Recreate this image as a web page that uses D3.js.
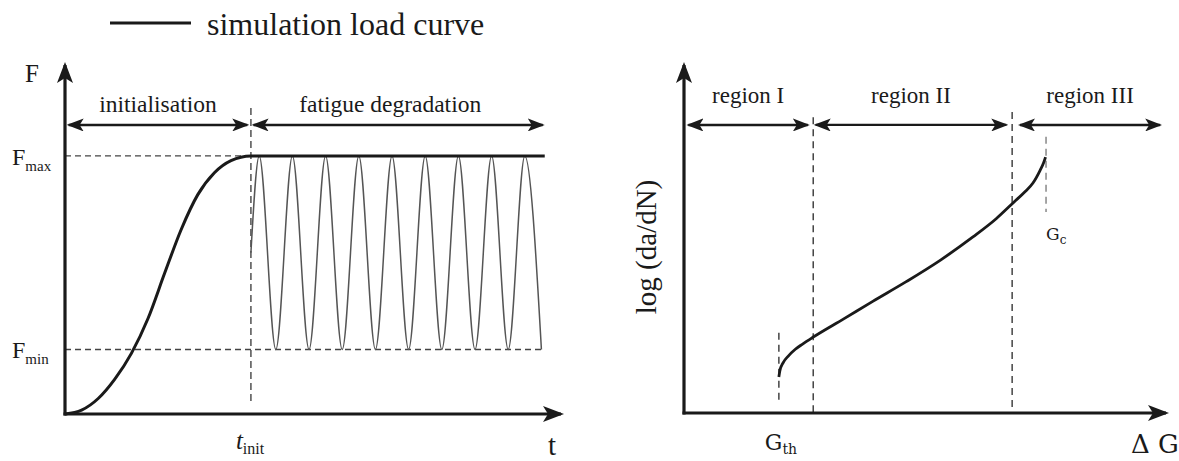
<!DOCTYPE html>
<html>
<head>
<meta charset="utf-8">
<script src="https://cdn.jsdelivr.net/npm/d3@7"></script>
<style>
  body { margin: 0; background: #fff; }
  text { font-family: "Liberation Serif", "Times New Roman", serif; fill: #1a1a1a; }
</style>
</head>
<body>
<script>
const width = 1179;
const height = 461;

// left panel: simulated load history F(t)
const rampT = [0, 0.5, 1.0, 1.5, 2.0, 2.5, 3.0, 3.5, 4.0, 4.5, 5.0, 5.6, 14.45];
const rampF = [0, 0.015, 0.06, 0.135, 0.235, 0.37, 0.545, 0.715, 0.85, 0.935, 0.982, 1.0, 1.0];
const cycleT = [5.6, 5.85, 6.35, 6.85, 7.35, 7.85, 8.35, 8.85, 9.35, 9.85, 10.35,
                10.85, 11.35, 11.85, 12.35, 12.85, 13.35, 13.85, 14.35];
const cycleF = [0.625, 1, 0.25, 1, 0.25, 1, 0.25, 1, 0.25, 1, 0.25,
                1, 0.25, 1, 0.25, 1, 0.25, 1, 0.25];
const fMax = 1, fMin = 0.25, tInit = 5.6, tEnd = 14.45;
const phases = ["initialisation", "fatigue degradation"];
const phaseSpan = [[0.05, 5.55], [5.62, 14.45]];

// right panel: crack growth rate vs energy release rate
const dG = [1.96, 1.98, 2.05, 2.15, 2.3, 2.45, 2.67, 3.3, 3.9, 4.6, 5.3, 5.97, 6.45, 6.82, 7.05, 7.21, 7.36, 7.43, 7.47];
const rate = [1.03, 1.2, 1.44, 1.62, 1.82, 1.97, 2.17, 2.69, 3.19, 3.76, 4.37, 5.03, 5.55, 6.03, 6.33, 6.57, 6.94, 7.15, 7.31];
const regions = ["region I", "region II", "region III"];
const regionSpan = [[0.05, 2.6], [2.68, 6.7], [6.9, 9.88]];
const gTh = 1.96, gC = 7.48, gB1 = 2.67, gB2 = 6.78;

const ink = "#1a1a1a";
const dashGrey = "#444";

let svg = d3.select("body").append("svg")
    .attr("width", width)
    .attr("height", height);

svg.append("rect").attr("width", width).attr("height", height).attr("fill", "white");

// arrow heads
let defs = svg.append("defs");
defs.append("marker")
    .attr("id", "axisHead")
    .attr("viewBox", "0 -8 21 16")
    .attr("refX", 18).attr("refY", 0)
    .attr("markerWidth", 21).attr("markerHeight", 16)
    .attr("markerUnits", "userSpaceOnUse")
    .attr("orient", "auto")
    .append("path").attr("d", "M0,-8L21,0L0,8L5,0Z").attr("fill", ink);
defs.append("marker")
    .attr("id", "spanHead")
    .attr("viewBox", "0 -6.5 17 13")
    .attr("refX", 15).attr("refY", 0)
    .attr("markerWidth", 17).attr("markerHeight", 13)
    .attr("markerUnits", "userSpaceOnUse")
    .attr("orient", "auto-start-reverse")
    .append("path").attr("d", "M0,-6.5L17,0L0,6.5L4,0Z").attr("fill", ink);

// ---------- left panel ----------
let tScale = d3.scaleLinear().domain([0, 15]).range([65, 563]);
let fScale = d3.scaleLinear().domain([0, 1.36]).range([414, 63]);
let left = svg.append("g");

// dashed guides
left.append("line")
    .attr("x1", tScale(0)).attr("x2", tScale(tInit))
    .attr("y1", fScale(fMax)).attr("y2", fScale(fMax))
    .attr("stroke", dashGrey).attr("stroke-width", 1.4).attr("stroke-dasharray", "6,4");
left.append("line")
    .attr("x1", tScale(0)).attr("x2", tScale(tEnd))
    .attr("y1", fScale(fMin)).attr("y2", fScale(fMin))
    .attr("stroke", dashGrey).attr("stroke-width", 1.4).attr("stroke-dasharray", "6,4");
left.append("line")
    .attr("x1", tScale(tInit)).attr("x2", tScale(tInit))
    .attr("y1", fScale(1.186)).attr("y2", fScale(0.035))
    .attr("stroke", dashGrey).attr("stroke-width", 1.4).attr("stroke-dasharray", "7,4");

// cyclic load
let cycLine = d3.line()
    .x((d, i) => tScale(cycleT[i]))
    .y((d) => fScale(d))
    .curve(d3.curveMonotoneX);
left.append("path")
    .attr("d", cycLine(cycleF))
    .attr("fill", "none").attr("stroke", "#555").attr("stroke-width", 1.5);

// simulation load curve (ramp + plateau)
let rampLine = d3.line()
    .x((d, i) => tScale(rampT[i]))
    .y((d) => fScale(d))
    .curve(d3.curveMonotoneX);
left.append("path")
    .attr("d", rampLine(rampF))
    .attr("fill", "none").attr("stroke", ink).attr("stroke-width", 3);

// axes
left.append("line")
    .attr("x1", tScale(0)).attr("x2", tScale(0))
    .attr("y1", fScale(0) + 1.5).attr("y2", fScale(1.36) + 2)
    .attr("stroke", ink).attr("stroke-width", 3.2).attr("marker-end", "url(#axisHead)");
left.append("line")
    .attr("x1", tScale(0) - 1.5).attr("x2", tScale(15) - 2)
    .attr("y1", fScale(0)).attr("y2", fScale(0))
    .attr("stroke", ink).attr("stroke-width", 3.2).attr("marker-end", "url(#axisHead)");

// phase arrows
phases.forEach((p, i) => {
    let s = phaseSpan[i];
    left.append("line")
        .attr("x1", tScale(s[0]) + 2).attr("x2", tScale(s[1]) - 2)
        .attr("y1", fScale(1.12)).attr("y2", fScale(1.12))
        .attr("stroke", ink).attr("stroke-width", 2.6)
        .attr("marker-start", "url(#spanHead)").attr("marker-end", "url(#spanHead)");
    left.append("text")
        .attr("x", tScale((s[0] + s[1]) / 2) - (i ? 8 : 0))
        .attr("y", fScale(1.17))
        .attr("text-anchor", "middle")
        .style("font-size", "23.5px")
        .text(p);
});

// labels
left.append("text").attr("x", 25).attr("y", 82).style("font-size", "25px").text("F");
let lvl = [["max", fMax], ["min", fMin]];
lvl.forEach(([sub, v]) => {
    let t = left.append("text")
        .attr("x", 12).attr("y", fScale(v) + 9)
        .style("font-size", "24px");
    t.append("tspan").text("F");
    t.append("tspan").attr("dy", 6).style("font-size", "15px").text(sub);
});
let ti = left.append("text")
    .attr("x", tScale(tInit) - 15).attr("y", 449)
    .style("font-size", "25px");
ti.append("tspan").style("font-style", "italic").text("t");
ti.append("tspan").attr("dy", 5).style("font-size", "16px").text("init");
left.append("text").attr("x", 548).attr("y", 455).style("font-size", "29px").text("t");

// legend
svg.append("line")
    .attr("x1", 110).attr("x2", 191).attr("y1", 23).attr("y2", 23)
    .attr("stroke", ink).attr("stroke-width", 3);
svg.append("text")
    .attr("x", 207).attr("y", 35)
    .style("font-size", "32px")
    .text("simulation load curve");

// ---------- right panel ----------
let gScale = d3.scaleLinear().domain([0, 10]).range([684, 1168]);
let rScale = d3.scaleLinear().domain([0, 10]).range([413, 63]);
let right = svg.append("g");

let guides = [[gTh, 0.29, 2.29, dashGrey], [gB1, 0, 8.45, dashGrey], [gB2, 0, 8.6, dashGrey], [gC, 5.74, 7.89, "#888"]];
guides.forEach(([g, y0, y1, c]) => {
    right.append("line")
        .attr("x1", gScale(g)).attr("x2", gScale(g))
        .attr("y1", rScale(y1)).attr("y2", rScale(y0))
        .attr("stroke", c).attr("stroke-width", 1.5).attr("stroke-dasharray", "7,5");
});

let rateLine = d3.line()
    .x((d, i) => gScale(dG[i]))
    .y((d) => rScale(d))
    .curve(d3.curveMonotoneX);
right.append("path")
    .attr("d", rateLine(rate))
    .attr("fill", "none").attr("stroke", ink).attr("stroke-width", 2.8);

right.append("line")
    .attr("x1", gScale(0)).attr("x2", gScale(0))
    .attr("y1", rScale(0) + 1.5).attr("y2", rScale(10) + 2)
    .attr("stroke", ink).attr("stroke-width", 3.2).attr("marker-end", "url(#axisHead)");
right.append("line")
    .attr("x1", gScale(0) - 1.5).attr("x2", gScale(10) - 2)
    .attr("y1", rScale(0)).attr("y2", rScale(0))
    .attr("stroke", ink).attr("stroke-width", 3.2).attr("marker-end", "url(#axisHead)");

regions.forEach((r, i) => {
    let s = regionSpan[i];
    right.append("line")
        .attr("x1", gScale(s[0]) + 2).attr("x2", gScale(s[1]) - 2)
        .attr("y1", rScale(8.23)).attr("y2", rScale(8.23))
        .attr("stroke", ink).attr("stroke-width", i === 1 ? 2.2 : 2.6)
        .attr("marker-start", "url(#spanHead)").attr("marker-end", "url(#spanHead)");
    right.append("text")
        .attr("x", gScale((s[0] + s[1]) / 2))
        .attr("y", rScale(8.86))
        .attr("text-anchor", "middle")
        .style("font-size", "23px")
        .text(r);
});

right.append("text")
    .attr("transform", `translate(656, 247) rotate(-90)`)
    .attr("text-anchor", "middle")
    .style("font-size", "29px")
    .text("log (da/dN)");

let gth = right.append("text")
    .attr("x", gScale(gTh) - 14).attr("y", 450)
    .style("font-family", "'DejaVu Serif', serif")
    .style("font-size", "22px");
gth.append("tspan").text("G");
gth.append("tspan").attr("dy", 4).style("font-size", "14px").text("th");

let gc = right.append("text")
    .attr("x", gScale(gC)).attr("y", 240)
    .style("font-family", "'DejaVu Serif', serif")
    .style("font-size", "17px");
gc.append("tspan").text("G");
gc.append("tspan").attr("dy", 4).style("font-size", "12px").text("c");

right.append("text")
    .attr("x", 1131).attr("y", 453)
    .style("font-family", "'DejaVu Serif', serif")
    .style("font-size", "26px")
    .text("Δ G");
</script>
</body>
</html>
